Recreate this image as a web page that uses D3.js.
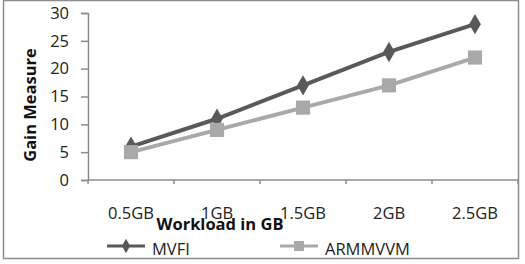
<!DOCTYPE html>
<html>
<head>
<meta charset="utf-8">
<script src="https://cdn.jsdelivr.net/npm/d3@7"></script>
<style>
  body { margin: 0; background: #fff; }
  svg text { font-family: "Open Sans", "Liberation Sans", sans-serif; }
</style>
</head>
<body>
<svg id="chart" width="525" height="264"></svg>
<script>
// data
var workloads = ["0.5GB", "1GB", "1.5GB", "2GB", "2.5GB"];
var mvfi = [6, 11, 17, 23, 28];
var armmvvm = [5, 9, 13, 17, 22];
var yTicks = [0, 5, 10, 15, 20, 25, 30];

var svg = d3.select("#chart");

// outer frame
svg.append("rect")
   .attr("x", 3.5).attr("y", 0.5)
   .attr("width", 515).attr("height", 258)
   .attr("fill", "#fff")
   .attr("stroke", "#8c8c8c")
   .attr("stroke-width", 1.5);

var x = d3.scaleBand().domain(workloads).range([88, 518]);
var y = d3.scaleLinear().domain([0, 30]).range([180, 13]);

// y axis
var yAxis = svg.append("g")
   .attr("transform", "translate(88,0)")
   .call(d3.axisLeft(y).tickValues(yTicks).tickSize(7).tickPadding(12));
yAxis.select(".domain").attr("stroke", "#8c8c8c").attr("stroke-width", 1.5);
yAxis.selectAll(".tick line").attr("stroke", "#8c8c8c").attr("stroke-width", 1.5);
yAxis.selectAll(".tick text")
     .attr("font-size", 16.5).attr("fill", "#222")
     .attr("font-family", "Open Sans, Liberation Sans, sans-serif");

// x axis: ticks between categories
var xAxis = svg.append("g").attr("transform", "translate(0,180)");
xAxis.append("line")
     .attr("x1", 88).attr("x2", 518).attr("y1", 0).attr("y2", 0)
     .attr("stroke", "#8c8c8c").attr("stroke-width", 1.5);
var edges = workloads.map(function(d){ return x(d); }).concat([x.range()[1]]);
xAxis.selectAll("line.tk").data(edges).enter().append("line")
     .attr("class", "tk")
     .attr("x1", function(d){ return d; }).attr("x2", function(d){ return d; })
     .attr("y1", 0).attr("y2", 4)
     .attr("stroke", "#8c8c8c").attr("stroke-width", 1.5);
xAxis.selectAll("text").data(workloads).enter().append("text")
     .attr("x", function(d){ return x(d) + x.bandwidth() / 2; })
     .attr("y", 39)
     .attr("text-anchor", "middle")
     .attr("font-size", 16.5).attr("fill", "#222")
     .text(function(d){ return d; });

// axis titles
svg.append("text")
   .attr("x", 220).attr("y", 230)
   .attr("text-anchor", "middle")
   .attr("font-size", 16.5).attr("font-weight", "bold").attr("fill", "#111")
   .text("Workload in GB");
svg.append("text")
   .attr("transform", "translate(36,105) rotate(-90)")
   .attr("text-anchor", "middle")
   .attr("font-size", 16.5).attr("font-weight", "bold").attr("fill", "#111")
   .text("Gain Measure");

var cx = function(d, i){ return x(workloads[i]) + x.bandwidth() / 2; };
var line = d3.line().x(cx).y(function(d){ return y(d); });

var series = [
  { name: "MVFI", values: mvfi, color: "#595959", symbol: d3.symbolDiamond, size: 120 },
  { name: "ARMMVVM", values: armmvvm, color: "#a9a9a9", symbol: d3.symbolSquare, size: 200 }
];

series.forEach(function(s){
  svg.append("path")
     .datum(s.values)
     .attr("d", line)
     .attr("fill", "none")
     .attr("stroke", s.color)
     .attr("stroke-width", 4);
  svg.selectAll("path.m-" + s.name).data(s.values).enter().append("path")
     .attr("class", "m-" + s.name)
     .attr("transform", function(d, i){ return "translate(" + cx(d, i) + "," + y(d) + ")"; })
     .attr("d", d3.symbol().type(s.symbol).size(s.size))
     .attr("fill", s.color);
});

// legend
var legendX = [107, 280];
series.forEach(function(s, i){
  var g = svg.append("g").attr("transform", "translate(" + legendX[i] + ",246)");
  g.append("line").attr("x1", 0).attr("x2", 38).attr("y1", 0).attr("y2", 0)
   .attr("stroke", s.color).attr("stroke-width", 3);
  g.append("path").attr("transform", "translate(19,0)")
   .attr("d", d3.symbol().type(s.symbol).size(s.size * 0.5))
   .attr("fill", s.color);
  g.append("text").attr("x", 45).attr("y", 9)
   .attr("font-size", 16.5).attr("fill", "#222")
   .text(s.name);
});
</script>
</body>
</html>
